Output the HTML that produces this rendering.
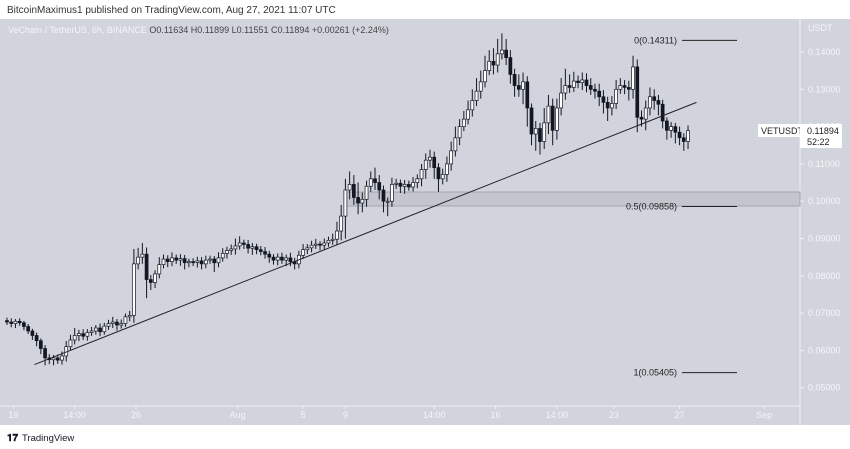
<!DOCTYPE html>
<html><head><meta charset="utf-8"><style>
body{margin:0;width:850px;height:449px;overflow:hidden;background:#fff;font-family:"Liberation Sans",sans-serif}
svg{position:absolute;left:0;top:0}
</style></head><body>
<svg id="c" width="850" height="449">
<rect x="0" y="0" width="850" height="449" fill="#ffffff"/>
<text x="7" y="13" font-size="10" fill="#333">BitcoinMaximus1 published on TradingView.com, Aug 27, 2021 11:07 UTC</text>
<rect x="0" y="19" width="850" height="406" fill="#d1d4dc"/>
<line x1="800" y1="19" x2="800" y2="425" stroke="#eef0f5" stroke-width="1"/>
<line x1="0" y1="406" x2="800" y2="406" stroke="#eef0f5" stroke-width="1"/>
<text x="8" y="33" font-size="9" fill="#f4f5f8">VeChain / TetherUS, 6h, BINANCE <tspan fill="#444">O0.11634  H0.11899  L0.11551  C0.11894  +0.00261 (+2.24%)</tspan></text>
<text x="808" y="31" font-size="9" fill="#f4f5f8">USDT</text>
<rect x="345" y="192" width="455" height="14" fill="#c3c6cf" stroke="#9a9da6" stroke-width="0.8"/>
<g id="yticks"></g><g id="xticks"></g><g id="candles"></g>
<line id="trend" stroke="#222" stroke-width="1"/>
<g id="fibs"></g>
<rect x="758" y="124" width="42" height="13" fill="#fff"/>
<text x="761" y="134" font-size="9" fill="#222">VETUSDT</text>
<rect x="800" y="124" width="42" height="24" fill="#fff"/>
<text x="807" y="134" font-size="9" fill="#222">0.11894</text>
<text x="807" y="145" font-size="9" fill="#222">52:22</text>
<text x="7" y="441" font-size="10" font-weight="bold" fill="#131722">𝟏𝟕</text>
<text x="22" y="441" font-size="9.5" fill="#131722">TradingView</text>
</svg>
<script>
const closes=[676,672,678,674,664,652,640,626,605,580,575,580,574,585,610,628,640,645,638,648,652,660,650,665,672,676,668,672,690,694,832,850,858,790,782,805,830,845,838,848,842,846,835,838,836,840,832,842,845,835,848,860,868,872,880,888,884,874,878,870,865,858,850,842,850,842,848,838,832,855,870,875,882,885,882,888,895,898,920,960,1030,1045,1010,995,1005,1040,1060,1050,1030,1000,1000,1045,1048,1040,1045,1038,1050,1060,1085,1110,1118,1090,1060,1072,1100,1135,1170,1200,1220,1245,1270,1295,1320,1350,1375,1365,1395,1405,1385,1340,1310,1300,1320,1250,1180,1195,1160,1210,1255,1190,1250,1290,1310,1305,1322,1318,1325,1310,1300,1295,1280,1265,1250,1262,1300,1310,1305,1300,1360,1225,1220,1250,1280,1270,1260,1215,1190,1200,1185,1170,1160,1189];
const wickUp=[8,10,6,8,5,7,6,8,6,9,10,8,9,12,15,14,20,10,12,9,11,8,12,9,10,14,8,11,9,12,40,25,30,18,12,10,20,12,10,15,9,12,10,8,9,11,10,12,9,8,15,14,10,12,20,18,9,12,10,8,10,12,9,8,10,12,9,14,10,12,15,10,12,14,8,12,10,15,25,30,30,35,25,40,18,15,20,30,20,12,10,18,12,10,12,10,15,12,15,18,20,15,12,15,20,25,30,20,22,25,30,35,30,40,30,35,40,45,30,20,15,30,25,15,12,20,15,40,30,20,25,40,45,30,25,15,20,18,20,15,20,18,15,20,25,20,15,18,30,20,18,20,25,20,15,12,10,12,10,15,12,14];
const wickDn=[8,10,12,8,10,8,12,15,15,20,12,15,10,12,15,10,12,15,10,12,9,10,12,8,10,12,15,10,9,12,20,15,18,50,20,15,12,10,15,12,10,15,18,12,10,14,15,12,10,25,12,10,14,12,15,10,12,14,18,12,10,12,15,12,14,10,16,12,15,12,10,12,12,10,14,12,10,12,15,25,60,25,20,30,25,20,15,20,25,30,40,15,12,18,20,10,12,15,20,25,20,30,35,15,20,18,15,20,12,14,18,15,20,15,12,25,20,15,20,25,30,20,40,50,30,45,35,20,30,40,25,20,18,15,12,15,20,18,15,20,25,30,35,20,15,12,18,30,25,40,20,30,20,25,30,20,25,20,30,20,25,20];
const yTicks=[0.14,0.13,0.12,0.11,0.10,0.09,0.08,0.07,0.06,0.05];
const xLabels=["19","14:00","26","Aug","5","9","14:00","16","14:00","23","27","Sep"];
const xLabelIdx=[1.5,16,30.5,54.5,70,80,101,115.5,130,143.5,159,179];
const fibLevels=[0.14311,0.09858,0.05405];
const fibNames=["0","0.5","1"];
const trendPts=[[6.5,562],[163,1265]];
const NS="http://www.w3.org/2000/svg";
function Y(v){return 52+(0.14-v)*3730;}
function X(i){return 7+i*4.23;}
function mk(t,a,p){const e=document.createElementNS(NS,t);for(const k in a)e.setAttribute(k,a[k]);p.appendChild(e);return e;}
const yt=document.getElementById('yticks');
yTicks.forEach(v=>{const y=Y(v);
 const l=mk('line',{x1:800,x2:804,y1:y,y2:y,stroke:'#eef0f5'},yt);
 
 
 const t=mk('text',{x:808,y:y+3,'font-size':9,fill:'#f4f5f8'},yt);t.textContent=v.toFixed(5);
 
 });
const xt=document.getElementById('xticks');
xLabels.forEach((s,k)=>{const x=X(xLabelIdx[k]);
 const l=mk('line',{x1:x,x2:x,y1:406,y2:409,stroke:'#eef0f5'},xt);
 
 
 const t=mk('text',{x:x,y:418,'font-size':9,fill:'#f4f5f8','text-anchor':'middle'},xt);t.textContent=s;
 
 });
const cg=document.getElementById('candles');
closes.forEach((c,i)=>{const o=i?closes[i-1]:c+4;const x=X(i);
 const hi=Math.max(o,c)+wickUp[i],lo=Math.min(o,c)-wickDn[i];
 const up=c>=o;
 const g=mk('g',{},cg);
 
 
 mk('line',{x1:x,x2:x,y1:Y(hi/10000),y2:Y(lo/10000),stroke:'#131722','stroke-width':1},g);
 const yt1=Y(Math.max(o,c)/10000),yb=Y(Math.min(o,c)/10000);
 mk('rect',{x:x-1.5,y:yt1,width:3,height:Math.max(1,yb-yt1),fill:up?'#fff':'#131722',stroke:'#131722','stroke-width':0.7},g);});
const tr=document.getElementById('trend');
const ax=X(trendPts[0][0]),ay=Y(trendPts[0][1]/10000),bx=X(trendPts[1][0]),by=Y(trendPts[1][1]/10000);
tr.setAttribute('x1',ax);tr.setAttribute('y1',ay);tr.setAttribute('x2',bx);tr.setAttribute('y2',by);
const fg=document.getElementById('fibs');
fibLevels.forEach((v,k)=>{const y=Y(v);
 const l=mk('line',{x1:682,x2:737,y1:y,y2:y,stroke:'#222','stroke-width':1},fg);
 
 
 const t=mk('text',{x:677,y:y+3,'font-size':9,fill:'#222','text-anchor':'end'},fg);t.textContent=fibNames[k]+'('+v.toFixed(5)+')';
 
 });
</script>
</body></html>
